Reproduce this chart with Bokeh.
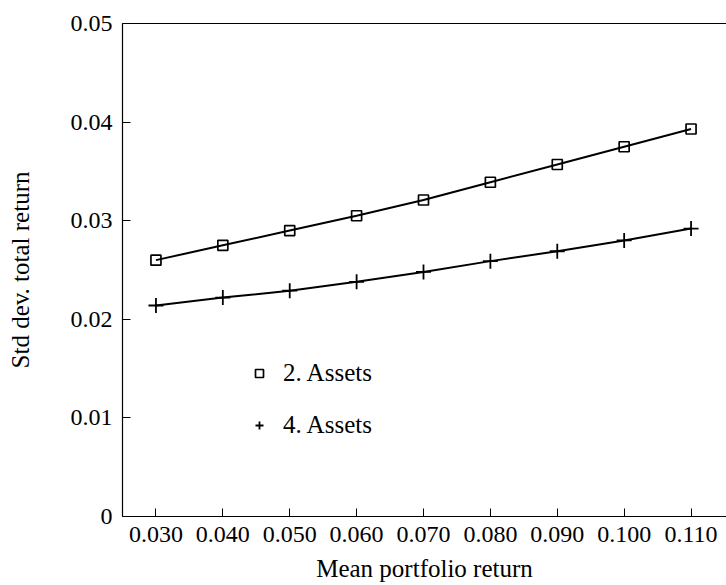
from bokeh.plotting import figure
from bokeh.models import LinearAxis, FixedTicker, Range1d, Legend, LegendItem, ColumnDataSource
from bokeh.embed import file_html
from bokeh.resources import INLINE

# ---- data ----
mean_return = [0.030, 0.040, 0.050, 0.060, 0.070, 0.080, 0.090, 0.100, 0.110]
std_2_assets = [0.0260, 0.0275, 0.0290, 0.0305, 0.0321, 0.0339, 0.0357, 0.0375, 0.0393]
std_4_assets = [0.0214, 0.0222, 0.0229, 0.0238, 0.0248, 0.0259, 0.0269, 0.0280, 0.0292]
x_ticks = [0.030, 0.040, 0.050, 0.060, 0.070, 0.080, 0.090, 0.100, 0.110]
x_tick_labels = ["0.030", "0.040", "0.050", "0.060", "0.070", "0.080", "0.090", "0.100", "0.110"]
y_ticks = [0.0, 0.01, 0.02, 0.03, 0.04, 0.05]
y_tick_labels = ["0", "0.01", "0.02", "0.03", "0.04", "0.05"]
series_labels = ["2. Assets", "4. Assets"]

FONT = "Liberation Serif"

p = figure(width=726, height=585, output_backend="svg", toolbar_location=None,
           x_range=Range1d(0.025, 0.1153), y_range=Range1d(0.0, 0.05),
           x_axis_label="Mean portfolio return", y_axis_label="Std dev. total return",
           min_border_left=122, min_border_top=23, min_border_bottom=69, min_border_right=0)
p.xgrid.visible = False
p.ygrid.visible = False
p.outline_line_color = None
p.background_fill_color = "white"
p.border_fill_color = "white"

src = ColumnDataSource(dict(x=mean_return, a2=std_2_assets, a4=std_4_assets))

p.line("x", "a2", source=src, line_color="black", line_width=2)
p.line("x", "a4", source=src, line_color="black", line_width=2)
r2 = p.scatter("x", "a2", source=src, marker="square", size=10, fill_color=None,
               line_color="black", line_width=1.7)
r4 = p.scatter("x", "a4", source=src, marker="cross", size=15,
               line_color="black", line_width=1.8)

for ax in (p.xaxis[0], p.yaxis[0]):
    ax.axis_line_color = "black"
    ax.axis_line_width = 1.2
    ax.major_tick_in = 8
    ax.major_tick_out = 0
    ax.minor_tick_line_color = None
    ax.major_label_text_font = FONT
    ax.major_label_text_font_size = "24px"
    ax.major_label_text_color = "black"
    ax.axis_label_text_font = FONT
    ax.axis_label_text_font_size = "25px"
    ax.axis_label_text_font_style = "normal"
    ax.axis_label_text_color = "black"

p.xaxis[0].ticker = FixedTicker(ticks=x_ticks)
p.xaxis[0].major_label_overrides = dict(zip(x_ticks, x_tick_labels))
p.xaxis[0].major_label_standoff = 10
p.xaxis[0].axis_label_standoff = 10

p.yaxis[0].ticker = FixedTicker(ticks=y_ticks)
p.yaxis[0].major_label_overrides = dict(zip(y_ticks, y_tick_labels))
p.yaxis[0].major_label_standoff = 10
p.yaxis[0].axis_label_standoff = 34

top = LinearAxis(ticker=FixedTicker(ticks=[]), axis_line_color="black", axis_line_width=1.2,
                 major_tick_line_color=None, minor_tick_line_color=None,
                 major_label_text_font_size="0px")
p.add_layout(top, "above")

legend = Legend(items=[LegendItem(label=series_labels[0], renderers=[r2]),
                       LegendItem(label=series_labels[1], renderers=[r4])],
                location=(127, 76), padding=0, margin=0, spacing=22,
                border_line_color=None, background_fill_alpha=0,
                label_text_font=FONT, label_text_font_size="25px", label_text_color="black",
                glyph_width=20, glyph_height=30, label_height=30, label_standoff=14)
p.add_layout(legend, "center")

open("out.html", "w").write(file_html(p, INLINE))
